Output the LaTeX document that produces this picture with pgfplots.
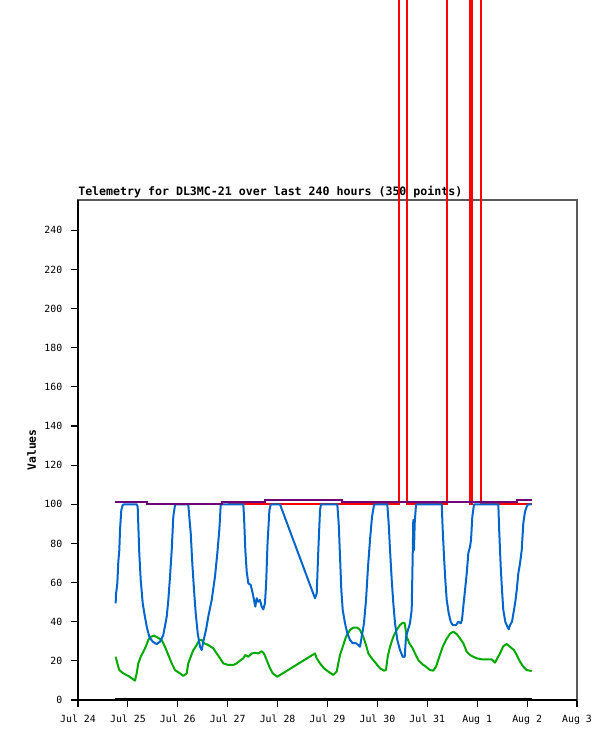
\documentclass[border=0pt]{standalone}
\usepackage{fontspec}
\usepackage{pgfplots}
\pgfplotsset{compat=1.18}
\newfontfamily\dmono{DejaVu Sans Mono}
\definecolor{cblue}{RGB}{0,102,204}
\definecolor{cgreen}{RGB}{0,170,0}
\definecolor{cred}{RGB}{255,0,0}
\definecolor{cpurple}{RGB}{110,0,120}
\begin{document}
\begin{tikzpicture}
\useasboundingbox (0,0) rectangle (461.25pt,555.75pt);
\begin{axis}[
  at={(58.5pt,30.75pt)}, anchor=south west,
  scale only axis, width=374.25pt, height=375pt,
  xmin=0, xmax=10, ymin=0, ymax=255.5,
  xtick={0,1,2,3,4,5,6,7,8,9,10},
  xticklabels={Jul 24,Jul 25,Jul 26,Jul 27,Jul 28,Jul 29,Jul 30,Jul 31,Aug 1,Aug 2,Aug 3},
  ytick={0,20,...,240},
  tick align=outside, tick pos=left,
  major tick length=5.25pt,
  tick style={black, line width=0.8pt},
  axis line style={draw=black!65, line width=0.8pt},
  clip=false,
  /pgf/number format/assume math mode=true,
  ticklabel style={font=\dmono\fontsize{7.4}{8}\selectfont},
  yticklabel style={xshift=-3pt},
  xticklabel style={yshift=-2.5pt},
  scaled y ticks=false,
  every axis plot/.append style={line width=1.5pt, line join=round},
]
\draw[black, line width=0.8pt] (rel axis cs:0,1) -- (rel axis cs:0,0) -- (rel axis cs:1,0);
\node[anchor=base west, inner sep=0pt, font=\dmono\bfseries\fontsize{8.7}{10}\selectfont] at (rel axis cs:0,1) [yshift=3pt] {Telemetry for DL3MC-21 over last 240 hours (350 points)};
% green
\addplot[cgreen] coordinates {
(0.755,22.1)(0.788,18.7)(0.828,15.3)(0.908,13.6)(1.008,12.3)(1.076,11.1)(1.142,9.9)(1.176,13.6)(1.208,18.7)(1.257,22.1)(1.309,24.7)(1.357,27.2)(1.409,30.7)(1.457,32.3)(1.523,32.9)(1.589,32)(1.677,30.7)(1.743,27.2)(1.810,23)(1.878,18.7)(1.944,15.3)(2.044,13.6)(2.110,12.3)(2.178,13.6)(2.210,18.7)(2.259,22.1)(2.311,25.5)(2.379,28.1)(2.431,30.7)(2.479,30.7)(2.525,29)(2.611,28.1)(2.711,26.4)(2.780,23.8)(2.846,21.3)(2.912,18.7)(3.012,17.9)(3.112,17.9)(3.180,18.7)(3.246,20.1)(3.313,21.3)(3.353,23)(3.413,22.1)(3.481,23.8)(3.547,24.1)(3.613,23.8)(3.681,24.9)(3.727,23.8)(3.781,20.4)(3.834,17)(3.902,13.6)(3.994,11.9)(4.749,23.8)(4.784,21.3)(4.850,18.7)(4.930,16.2)(5.016,14.5)(5.116,12.8)(5.184,14.5)(5.216,18.7)(5.251,23)(5.305,27.2)(5.371,32.3)(5.451,35.8)(5.517,37)(5.597,37)(5.651,35.8)(5.717,32.3)(5.772,28.1)(5.818,23.8)(5.886,21.3)(5.972,18.7)(6.052,16.2)(6.132,15)(6.172,15.3)(6.206,22.1)(6.253,27.2)(6.319,32.3)(6.387,35.8)(6.453,38.3)(6.507,39.5)(6.547,39.2)(6.587,32.3)(6.639,29)(6.707,26.4)(6.754,23.8)(6.820,20.4)(6.920,17.9)(6.954,17.4)(7.054,15.3)(7.120,15)(7.174,17)(7.240,22.1)(7.309,27.2)(7.375,30.7)(7.455,33.9)(7.521,34.9)(7.589,33.7)(7.655,31.5)(7.721,29)(7.790,24.7)(7.856,23)(7.922,22.1)(7.990,21.3)(8.090,20.8)(8.190,20.8)(8.290,20.8)(8.357,19.1)(8.403,21.3)(8.457,23.8)(8.523,27.5)(8.591,28.6)(8.657,27.2)(8.737,25.5)(8.792,23)(8.858,19.6)(8.924,17)(8.992,15.3)(9.092,14.8)
};
% red
\addplot[cred, line join=miter] coordinates {
(3.0,100.3)(6.439,100.3)(6.439,400)(6.587,400)(6.587,100.3)(7.389,100.3)(7.389,400)(7.862,400)(7.862,100.3)(7.89,100.3)(7.89,400)(8.07,400)(8.07,100.3)(9.09,100.3)
};
% blue
\addplot[cblue] coordinates {
(0.755,49.4)(0.76,53.6)(0.788,59.6)(0.808,70.7)(0.828,76.6)(0.842,86.9)(0.868,97)(0.896,99.6)(0.922,100)(1.176,100)(1.196,98.8)(1.228,75)(1.257,61.3)(1.297,49.4)(1.329,44.3)(1.377,37.5)(1.429,32.3)(1.497,29.8)(1.577,28.6)(1.643,29.8)(1.709,33.2)(1.778,42.6)(1.810,51.1)(1.844,63)(1.878,76.6)(1.910,93.7)(1.944,99.6)(1.954,100)(2.210,100)(2.230,93.7)(2.259,85.2)(2.291,69.8)(2.325,56.2)(2.359,44.3)(2.399,34.1)(2.445,27.2)(2.479,25.5)(2.511,29.8)(2.565,35.8)(2.611,42.6)(2.679,51.1)(2.745,63)(2.792,75)(2.832,86.9)(2.860,99.6)(2.876,100)(3.313,100)(3.327,93.7)(3.353,76.6)(3.381,65.6)(3.413,59.6)(3.461,58.8)(3.501,54.5)(3.527,51.1)(3.553,47.7)(3.581,52)(3.613,50.2)(3.647,51.1)(3.681,47.7)(3.713,46.3)(3.747,49.4)(3.771,60)(3.798,80)(3.836,97.1)(3.864,100)(4.048,100)(4.749,52)(4.784,54.5)(4.816,76.6)(4.850,97)(4.870,100)(5.196,100)(5.224,90.3)(5.251,73.2)(5.277,56.2)(5.305,46)(5.351,39.2)(5.397,34.1)(5.451,30.7)(5.505,29)(5.571,29)(5.617,28.1)(5.651,27.2)(5.685,32.3)(5.731,39.2)(5.772,51.1)(5.812,68.1)(5.852,81.8)(5.892,93.7)(5.932,99.6)(5.952,100)(6.198,100)(6.226,90.3)(6.253,76.6)(6.287,61.3)(6.319,49.4)(6.353,39.2)(6.399,30.7)(6.453,25.5)(6.507,22.1)(6.547,22.1)(6.573,32.3)(6.613,35.8)(6.653,39.2)(6.687,46)(6.707,73.2)(6.719,92)(6.733,76.6)(6.747,90.3)(6.774,100)(7.289,100)(7.309,86.9)(7.335,73.2)(7.361,61.3)(7.389,51.1)(7.429,44.3)(7.469,40)(7.509,38.3)(7.575,38.3)(7.621,40)(7.669,39.2)(7.695,40.9)(7.721,47.7)(7.756,56.2)(7.790,64.7)(7.822,75)(7.856,78.3)(7.876,81.8)(7.902,93.7)(7.936,100)(8.423,100)(8.443,85.2)(8.471,68.1)(8.497,56.2)(8.523,46)(8.563,40)(8.603,37.5)(8.631,36.1)(8.657,38.3)(8.697,40)(8.737,46)(8.764,50.2)(8.792,56.2)(8.824,64.7)(8.858,69.8)(8.892,76.6)(8.924,90.3)(8.958,96.2)(8.992,98.8)(9.018,100)(9.092,100)
};
% purple
\addplot[cpurple, line join=miter] coordinates {
(0.74,101.2)(1.376,101.2)(1.376,100.4)(2.879,100.4)(2.879,101.2)(3.747,101.2)(3.747,102.2)(5.284,102.2)(5.284,101.2)(8.79,101.2)(8.79,102.2)(9.09,102.2)
};
% black
\addplot[black] coordinates {(0.74,0.3)(9.09,0.3)};
\end{axis}
\node[rotate=90, font=\dmono\bfseries\fontsize{8.5}{10}\selectfont] at (23.8pt,218.25pt) {Values};
\end{tikzpicture}
\end{document}
